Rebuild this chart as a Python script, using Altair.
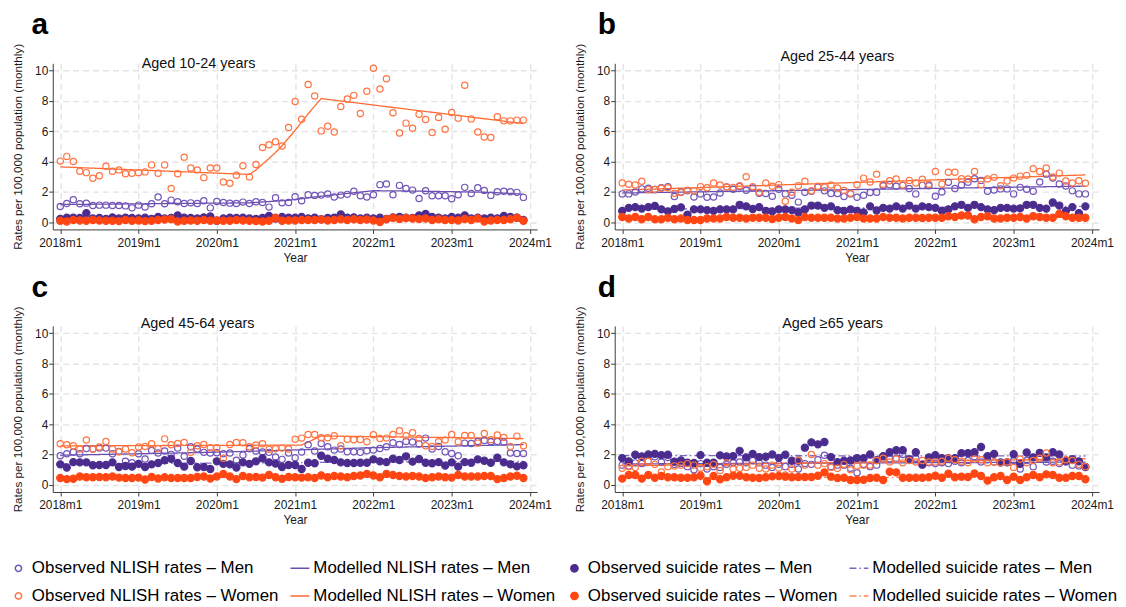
import altair as alt
import pandas as pd

# ---------------- data ----------------
MONTHS = list(range(72))
YEAR_LABELS = ["2018m1", "2019m1", "2020m1", "2021m1", "2022m1", "2023m1", "2024m1"]
YEAR_TICKS = [0, 12, 24, 36, 48, 60, 72]
Y_TICKS = [0, 2, 4, 6, 8, 10]

SERIES = [
    "Observed NLISH rates – Men", "Modelled NLISH rates – Men",
    "Observed suicide rates – Men", "Modelled suicide rates – Men",
    "Observed NLISH rates – Women", "Modelled NLISH rates – Women",
    "Observed suicide rates – Women", "Modelled suicide rates – Women",
]
LETTERS = ["a", "b", "c", "d"]
TITLES = ["Aged 10-24 years", "Aged 25-44 years", "Aged 45-64 years", "Aged ≥65 years"]

# Panel a (10-24)
A_NLISH_MEN = [1.04,1.24,1.48,1.22,1.26,1.1,1.13,1.13,1.1,1.1,1.08,0.95,
               1.13,1.0,1.22,1.66,1.22,1.46,1.35,1.24,1.28,1.24,1.42,0.95,
               1.37,1.3,1.26,1.24,1.33,1.24,1.35,1.3,1.0,1.62,1.28,1.3,
               1.68,1.42,1.81,1.77,1.79,1.86,1.66,1.79,1.84,2.04,1.75,1.66,
               1.81,2.48,2.52,1.81,2.43,2.23,2.12,1.57,2.08,1.75,1.75,1.75,
               1.55,1.81,2.3,1.9,2.28,2.1,1.77,2.01,2.04,2.01,1.97,1.64]
A_NLISH_WOMEN = [4.03,4.34,4.0,3.36,3.27,2.9,3.07,3.69,3.36,3.45,3.2,3.23,
                 3.27,3.32,3.78,3.23,3.78,2.23,3.2,4.29,3.58,3.45,2.94,3.58,
                 3.58,2.65,2.57,3.1,3.72,2.99,3.8,4.93,5.11,5.31,5.02,6.24,
                 7.96,6.79,9.07,8.32,6.02,6.33,5.95,7.63,8.12,8.36,7.17,8.63,
                 10.15,8.78,9.45,7.21,5.88,6.53,6.19,7.12,6.77,5.91,6.9,6.13,
                 7.23,6.86,9.03,6.81,5.95,5.62,5.58,6.95,6.68,6.68,6.73,6.73]
A_SUI_MEN = [0.22,0.3,0.3,0.28,0.6,0.25,0.28,0.22,0.32,0.25,0.3,0.28,
             0.25,0.3,0.22,0.35,0.25,0.28,0.45,0.3,0.28,0.25,0.32,0.38,
             0.1,0.25,0.3,0.28,0.3,0.25,0.22,0.28,0.42,0.25,0.35,0.3,
             0.3,0.35,0.25,0.3,0.2,0.28,0.3,0.52,0.3,0.32,0.25,0.3,
             0.25,0.3,0.22,0.32,0.35,0.3,0.28,0.45,0.55,0.35,0.3,0.25,
             0.35,0.3,0.45,0.25,0.3,0.25,0.3,0.25,0.42,0.35,0.3,0.15]
A_SUI_WOMEN = [0.1,0.05,0.15,0.12,0.1,0.15,0.12,0.1,0.1,0.08,0.15,0.1,
               0.12,0.08,0.1,0.15,0.18,0.2,0.05,0.1,0.12,0.1,0.15,0.1,
               0.12,0.1,0.1,0.15,0.12,0.1,0.08,0.05,0.1,0.3,0.1,0.12,
               0.12,0.15,0.15,0.15,0.18,0.12,0.15,0.2,0.15,0.2,0.15,0.18,
               0.12,0.02,0.2,0.3,0.22,0.28,0.25,0.22,0.25,0.15,0.2,0.15,
               0.15,0.12,0.22,0.15,0.25,0.05,0.12,0.15,0.15,0.2,0.3,0.1]

# Panel b (25-44)
B_NLISH_MEN = [1.87,1.87,2.0,2.2,2.24,2.15,2.28,2.35,1.7,2.0,2.07,1.67,
               1.87,1.65,1.67,1.93,2.33,2.17,2.35,2.11,2.26,1.91,1.89,1.72,
               2.17,1.87,1.78,1.33,1.98,2.04,2.33,2.07,1.89,1.89,1.7,1.87,
               1.65,1.78,1.96,1.98,2.41,2.48,2.37,2.43,2.22,1.87,2.43,2.41,
               1.72,2.0,2.63,2.22,2.46,2.63,2.87,2.76,2.04,2.13,2.2,2.2,
               1.87,2.3,2.17,2.04,2.65,3.17,2.91,2.52,2.39,2.07,1.87,1.87]
B_NLISH_WOMEN = [2.59,2.5,2.46,2.7,2.15,2.17,2.24,2.28,1.91,1.96,2.11,2.07,
                 2.35,2.28,2.59,2.46,2.33,2.3,2.41,3.0,2.35,1.98,2.59,2.37,
                 2.48,1.39,1.98,2.41,2.7,2.07,2.37,2.3,2.46,2.26,2.09,1.91,
                 2.48,2.91,2.65,3.17,2.5,2.74,2.85,2.46,2.76,2.59,2.83,2.5,
                 3.35,2.52,3.3,3.3,2.87,2.85,3.35,2.48,2.85,2.96,2.41,2.72,
                 2.91,3.04,3.09,3.52,3.35,3.57,2.98,3.24,2.72,2.59,2.74,2.57]
B_SUI_MEN = [0.75,0.95,1.0,0.9,1.0,1.08,0.85,0.72,0.88,0.98,0.5,0.85,
             0.85,0.8,0.75,0.85,0.85,0.85,1.15,1.05,0.88,1.0,0.75,0.72,
             0.85,0.85,0.8,0.65,0.85,1.1,1.1,0.95,1.05,0.8,0.75,0.85,
             0.75,0.65,1.05,0.78,0.95,0.9,1.05,0.9,1.1,0.9,1.05,1.0,
             0.95,0.75,0.85,1.05,1.15,0.95,1.15,1.0,0.85,0.8,0.95,0.95,
             0.9,0.92,1.15,1.15,0.95,0.9,1.3,1.1,0.75,1.0,0.6,1.05]
B_SUI_WOMEN = [0.35,0.25,0.35,0.2,0.35,0.2,0.2,0.3,0.2,0.25,0.15,0.15,
               0.15,0.25,0.25,0.25,0.35,0.3,0.3,0.25,0.3,0.3,0.3,0.22,
               0.3,0.35,0.25,0.15,0.35,0.3,0.3,0.3,0.3,0.25,0.25,0.3,
               0.35,0.25,0.25,0.25,0.35,0.3,0.3,0.25,0.3,0.3,0.28,0.3,
               0.3,0.3,0.4,0.35,0.45,0.45,0.2,0.35,0.4,0.25,0.25,0.3,
               0.3,0.35,0.25,0.4,0.35,0.3,0.3,0.55,0.4,0.3,0.3,0.3]

# Panel c (45-64)
C_NLISH_MEN = [1.92,2.05,2.16,2.05,2.4,2.36,2.42,2.42,2.05,2.2,1.55,1.46,
               2.05,1.7,2.27,2.1,2.23,2.01,2.42,1.88,2.51,2.36,2.14,2.1,
               2.12,2.05,2.1,1.62,1.97,2.38,2.23,2.16,2.14,1.83,1.68,2.1,
               1.79,2.16,2.64,2.23,2.73,2.51,2.29,2.36,2.18,2.18,2.14,2.25,
               2.29,2.4,2.51,2.77,2.66,2.86,2.82,2.69,3.08,2.36,2.53,2.18,
               2.07,1.92,2.75,2.73,2.86,2.93,2.84,2.86,2.82,2.1,2.07,2.07]
C_NLISH_WOMEN = [2.71,2.64,2.58,2.36,2.95,2.36,2.49,2.86,2.36,2.18,2.36,2.12,
                 2.49,2.53,2.71,2.4,3.03,2.64,2.73,2.79,2.14,2.58,2.66,2.45,
                 2.45,1.75,2.66,2.79,2.77,2.51,2.62,2.71,2.34,2.38,2.42,2.36,
                 3.01,3.08,3.32,3.32,3.1,3.1,3.23,2.58,3.01,2.97,2.99,2.84,
                 3.3,3.06,3.08,3.32,3.56,3.23,3.43,3.06,2.58,2.53,2.84,2.95,
                 3.32,2.84,3.25,3.25,2.75,3.38,2.97,3.28,3.12,2.53,3.21,2.58]
C_SUI_MEN = [1.35,1.14,1.5,1.48,1.48,1.29,1.31,1.31,1.48,1.18,1.24,1.2,
             1.38,1.18,1.35,1.44,1.62,1.72,1.44,1.2,1.57,1.16,1.18,1.05,
             1.55,1.38,1.35,1.14,1.48,1.38,1.55,1.75,1.48,1.4,1.18,1.31,
             1.31,1.05,1.46,1.42,1.92,1.72,1.64,1.48,1.44,1.44,1.46,1.46,
             1.68,1.55,1.5,1.72,1.64,1.88,1.53,1.7,1.46,1.42,1.5,1.27,
             1.48,1.2,1.5,1.46,1.68,1.59,1.46,1.79,1.48,1.35,1.22,1.29]
C_SUI_WOMEN = [0.45,0.38,0.4,0.55,0.5,0.5,0.52,0.5,0.55,0.48,0.45,0.45,
               0.48,0.35,0.52,0.42,0.5,0.45,0.45,0.45,0.45,0.52,0.55,0.42,
               0.55,0.72,0.55,0.38,0.58,0.5,0.52,0.48,0.65,0.5,0.4,0.52,
               0.5,0.48,0.5,0.45,0.62,0.5,0.58,0.55,0.5,0.58,0.62,0.72,
               0.62,0.5,0.72,0.65,0.58,0.55,0.58,0.55,0.45,0.5,0.55,0.5,
               0.48,0.65,0.55,0.55,0.55,0.58,0.58,0.38,0.45,0.55,0.6,0.45]

# Panel d (>=65)
D_NLISH_MEN = [1.3,1.25,1.45,1.4,1.55,1.85,1.5,1.8,1.35,1.4,1.2,1.0,
               1.4,1.05,1.2,1.15,1.35,1.45,1.5,1.45,1.6,1.45,1.3,1.15,
               1.35,1.2,1.35,1.05,1.4,1.35,1.65,1.95,1.2,1.3,1.3,1.1,
               0.8,1.35,1.2,1.3,1.75,1.7,1.75,2.0,1.7,1.75,1.35,1.45,
               1.4,1.45,1.4,1.55,1.45,1.6,1.85,1.5,1.65,1.5,1.45,1.5,
               1.6,1.05,1.6,1.2,1.75,1.5,1.55,1.4,1.5,1.3,1.25,1.2]
D_NLISH_WOMEN = [1.1,1.2,1.15,1.55,1.55,1.35,0.85,1.2,1.25,1.3,1.4,1.3,
                 1.1,1.2,1.35,0.95,1.45,1.05,1.1,1.15,1.3,1.1,1.05,1.3,
                 1.1,0.65,1.05,1.6,1.3,2.0,1.3,1.4,1.15,1.1,1.35,1.0,
                 1.25,1.3,1.3,1.6,1.75,1.5,1.7,1.45,1.6,1.5,1.6,1.5,
                 1.5,1.55,1.75,1.65,1.55,1.45,1.7,1.65,1.45,1.5,1.45,1.5,
                 1.15,1.7,1.45,1.6,1.75,2.1,1.45,1.5,1.65,1.6,1.35,1.2]
D_SUI_MEN = [1.76,1.55,1.98,1.87,2.0,2.04,1.96,1.98,1.53,1.61,1.46,1.44,
             1.96,1.46,1.46,1.94,1.87,1.89,2.24,1.81,2.04,1.83,1.85,2.0,
             1.78,1.98,1.59,1.59,2.45,2.8,2.67,2.82,1.83,1.5,1.59,1.61,
             1.76,1.76,2.0,1.63,1.89,2.15,2.28,2.28,1.68,2.15,1.33,1.81,
             1.96,1.76,1.76,1.76,2.09,2.09,2.15,2.49,1.89,2.04,1.48,1.48,
             2.02,1.38,2.13,1.81,2.11,1.81,2.15,2.0,1.59,1.68,1.55,1.18]
D_SUI_WOMEN = [0.41,0.65,0.65,0.41,0.65,0.47,0.58,0.5,0.5,0.47,0.47,0.5,
               0.6,0.24,0.58,0.37,0.5,0.6,0.6,0.5,0.47,0.45,0.5,0.56,
               0.58,0.54,0.5,0.52,0.52,0.52,0.6,0.82,0.54,0.45,0.47,0.32,
               0.32,0.34,0.45,0.47,0.32,0.86,0.82,0.47,0.47,0.47,0.47,0.5,
               0.6,0.47,0.73,0.5,0.54,0.52,0.75,0.58,0.28,0.5,0.58,0.32,
               0.54,0.32,0.5,0.65,0.5,0.69,0.65,0.47,0.47,0.58,0.58,0.37]

# Modelled series: (months, values) breakpoints
MOD = {
    "a": {
        "Modelled NLISH rates – Men": ([0, 29, 35, 40, 44, 48, 55, 66, 71],
                                        [1.17, 1.28, 1.45, 1.72, 1.9, 2.08, 2.05, 1.97, 1.85]),
        "Modelled NLISH rates – Women": ([0, 29, 30, 31, 32, 33, 34, 35, 36, 37, 38, 39, 40, 71],
                                          [3.65, 3.15, 3.45, 3.82, 4.2, 4.6, 5.05, 5.55, 6.05, 6.6, 7.15, 7.65, 8.15, 6.5]),
        "Modelled suicide rates – Men": ([0, 71], [0.27, 0.3]),
        "Modelled suicide rates – Women": ([0, 71], [0.12, 0.17]),
    },
    "b": {
        "Modelled NLISH rates – Men": ([0, 71], [1.93, 2.38]),
        "Modelled NLISH rates – Women": ([0, 71], [2.12, 3.12]),
        "Modelled suicide rates – Men": ([0, 71], [0.85, 1.05]),
        "Modelled suicide rates – Women": ([0, 71], [0.27, 0.33]),
    },
    "c": {
        "Modelled NLISH rates – Men": ([0, 24, 48, 71], [1.95, 2.15, 2.45, 2.65]),
        "Modelled NLISH rates – Women": ([0, 37, 40, 71], [2.57, 2.62, 3.22, 3.05]),
        "Modelled suicide rates – Men": ([0, 71], [1.38, 1.55]),
        "Modelled suicide rates – Women": ([0, 71], [0.48, 0.55]),
    },
    "d": {
        "Modelled NLISH rates – Men": ([0, 71], [1.38, 1.5]),
        "Modelled NLISH rates – Women": ([0, 71], [1.25, 1.72]),
        "Modelled suicide rates – Men": ([0, 71], [1.93, 1.9]),
        "Modelled suicide rates – Women": ([0, 71], [0.48, 0.5]),
    },
}

OBS = {
    "a": [A_NLISH_MEN, A_SUI_MEN, A_NLISH_WOMEN, A_SUI_WOMEN],
    "b": [B_NLISH_MEN, B_SUI_MEN, B_NLISH_WOMEN, B_SUI_WOMEN],
    "c": [C_NLISH_MEN, C_SUI_MEN, C_NLISH_WOMEN, C_SUI_WOMEN],
    "d": [D_NLISH_MEN, D_SUI_MEN, D_NLISH_WOMEN, D_SUI_WOMEN],
}
OBS_NAMES = ["Observed NLISH rates – Men", "Observed suicide rates – Men",
             "Observed NLISH rates – Women", "Observed suicide rates – Women"]

# ---------------- styles ----------------
PURPLE_OPEN = "#7255B8"
PURPLE_LINE = "#6A4FB0"
PURPLE_FILL = "#4B2C8E"
PURPLE_DASH = "#7D64C2"
ORANGE_OPEN = "#FF7442"
ORANGE_LINE = "#FF6A33"
ORANGE_FILL = "#FF4612"
ORANGE_DASH = "#FF8556"

OPEN_CIRCLE = "M0.33,0A0.33,0.33,0,1,1,-0.33,0A0.33,0.33,0,1,1,0.33,0Z"
DOT = "M0.38,0A0.38,0.38,0,1,1,-0.38,0A0.38,0.38,0,1,1,0.38,0Z"

stroke_scale = alt.Scale(domain=SERIES, range=[PURPLE_OPEN, PURPLE_LINE, PURPLE_FILL, PURPLE_DASH,
                                               ORANGE_OPEN, ORANGE_LINE, ORANGE_FILL, ORANGE_DASH])
fill_scale = alt.Scale(domain=SERIES, range=["transparent", "transparent", PURPLE_FILL, "transparent",
                                             "transparent", "transparent", ORANGE_FILL, "transparent"])
shape_scale = alt.Scale(domain=SERIES, range=[OPEN_CIRCLE, "stroke", DOT, "stroke",
                                              OPEN_CIRCLE, "stroke", DOT, "stroke"])
dash_scale = alt.Scale(domain=SERIES, range=[[1, 0], [1, 0], [1, 0], [7, 3, 1.5, 3],
                                             [1, 0], [1, 0], [1, 0], [7, 3, 1.5, 3]])

W, H = 487, 167
X_DOMAIN = [-1.15, 73.1]
Y_DOMAIN = [-0.47, 10.47]

legend = alt.Legend(orient="none", legendX=-45, legendY=497, columns=4, direction="horizontal",
                    labelFontSize=17, labelColor="#000000", labelLimit=0, labelOffset=3,
                    columnPadding=8, rowPadding=9, symbolSize=361, symbolStrokeWidth=1.5,
                    padding=0)

label_expr = "[" + ",".join("'" + s + "'" for s in YEAR_LABELS) + "][round(datum.value/12)]"

AX_COLOR = "#3c3c3c"
GRID_COLOR = "#E4E4E4"

x_axis = alt.Axis(values=YEAR_TICKS, labelExpr=label_expr, title="Year", grid=True,
                  gridColor=GRID_COLOR, gridDash=[6, 4], gridWidth=1.4,
                  domainColor=AX_COLOR, tickColor=AX_COLOR, tickSize=4,
                  labelFontSize=12, labelColor="#1a1a1a", labelPadding=4, labelFlush=False,
                  labelOverlap=False, titleFontSize=12, titleFontWeight="normal",
                  titleColor="#1a1a1a", titleX=W / 2, titleY=23, titleBaseline="top",
                  titleAlign="center")
y_axis = alt.Axis(values=Y_TICKS, title="Rates per 100,000 population (monthly)", grid=True,
                  gridColor=GRID_COLOR, gridDash=[6, 4], gridWidth=1.4,
                  domainColor=AX_COLOR, tickColor=AX_COLOR, tickSize=4,
                  labelFontSize=12, labelColor="#1a1a1a", labelPadding=1,
                  titleFontSize=11.8, titleFontWeight="normal", titleColor="#1a1a1a",
                  titleX=-35, titleY=H / 2, titleAngle=270, titleAlign="center",
                  titleBaseline="middle")

# text positions (pixels relative to each plot area)
LETTER_X = {"a": -13, "b": -8, "c": -13, "d": -8}
TITLE_POS = {"a": (146.6, 1), "b": (223.8, -6), "c": (145.6, -1.7), "d": (219, -1.7)}


def make_panel(key, letter, title):
    rows = []
    for name, vals in zip(OBS_NAMES, OBS[key]):
        for m, v in zip(MONTHS, vals):
            rows.append({"month": m, "value": v, "series": name})
    obs_df = pd.DataFrame(rows)
    mrows = []
    for name, (ms, vs) in MOD[key].items():
        for m, v in zip(ms, vs):
            mrows.append({"month": m, "value": v, "series": name})
    mod_df = pd.DataFrame(mrows)

    x = alt.X("month:Q", scale=alt.Scale(domain=X_DOMAIN, nice=False, zero=False), axis=x_axis)
    y = alt.Y("value:Q", scale=alt.Scale(domain=Y_DOMAIN, nice=False, zero=False), axis=y_axis)

    lines = alt.Chart(mod_df).mark_line(strokeWidth=1.3).encode(
        x=x, y=y,
        stroke=alt.Stroke("series:N", scale=stroke_scale, legend=legend, title=None),
        strokeDash=alt.StrokeDash("series:N", scale=dash_scale, legend=legend, title=None),
        order="month:Q",
    )
    points = alt.Chart(obs_df).mark_point(size=361, strokeWidth=1.2, opacity=1).encode(
        x=x, y=y,
        stroke=alt.Stroke("series:N", scale=stroke_scale, legend=legend, title=None),
        fill=alt.Fill("series:N", scale=fill_scale, legend=legend, title=None),
        shape=alt.Shape("series:N", scale=shape_scale, legend=legend, title=None),
    )
    tx, ty = TITLE_POS[key]
    title_t = alt.Chart(pd.DataFrame({"t": [title]})).mark_text(
        fontSize=14.5, align="center", baseline="middle", color="#111111"
    ).encode(text="t:N", x=alt.value(tx), y=alt.value(ty))
    letter_t = alt.Chart(pd.DataFrame({"t": [letter]})).mark_text(
        fontSize=30, fontWeight="bold", align="center", baseline="alphabetic", color="#000000"
    ).encode(text="t:N", x=alt.value(LETTER_X[key]), y=alt.value(-29.5))
    return alt.layer(lines, points, title_t, letter_t).properties(width=W, height=H)


panels = [make_panel(k, k, t) for k, t in zip(LETTERS, TITLES)]

chart = alt.concat(*panels, columns=2, spacing={"row": 97, "column": 78}, bounds="flush").properties(
    padding=0, background="white"
).configure(font="Liberation Sans").configure_view(strokeWidth=0)

chart.save("out.html", embed_options={"renderer": "svg", "actions": False})
